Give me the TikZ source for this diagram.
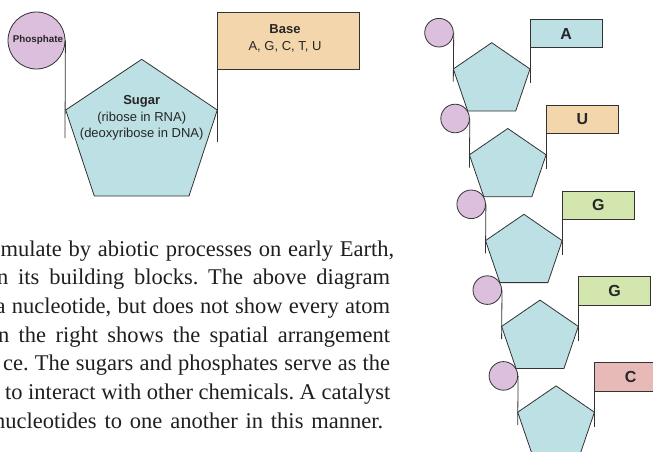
\documentclass[tikz,border=0pt]{standalone}
\usepackage{fontspec}
\setmainfont{Liberation Serif}
\setsansfont{Liberation Sans}
\definecolor{sugcol}{HTML}{BCE0E3}
\definecolor{phoscol}{HTML}{DCBFDC}
\definecolor{basecol}{HTML}{F3D6AC}
\definecolor{gcol}{HTML}{D2E6AE}
\definecolor{ccol}{HTML}{E8BAB7}
\definecolor{linecol}{HTML}{333333}
\begin{document}
\frenchspacing
\begin{tikzpicture}[x=1pt,y=-1pt,
  ln/.style={draw=linecol, line width=0.8pt},
  phos/.style={circle, draw=linecol, line width=0.8pt, fill=phoscol, inner sep=0pt},
  sug/.style={draw=linecol, line width=0.8pt, fill=sugcol},
  basebox/.style={draw=linecol, line width=0.8pt, inner sep=0pt, anchor=north west},
  lbl/.style={font=\sffamily\fontsize{13}{16.5}\selectfont, align=center, inner sep=0pt, text=black!85},
  letter/.style={font=\sffamily\bfseries\fontsize{16}{18}\selectfont, text=black!85},
  para/.style={anchor=base west, inner sep=0pt, font=\fontsize{22.5}{28}\selectfont, text=black!88}
]
\useasboundingbox (0,0) rectangle (653,452);
\clip (0,0) rectangle (653,452);

% ---------- left: single nucleotide ----------
\draw[sug] (141.7,59.3) -- (217.3,110) -- (189,196) -- (94.3,196) -- (65.7,110) -- cycle;
\node[lbl] (sugar) at (141.7,118) {\textbf{Sugar}\\(ribose in RNA)\\(deoxyribose in DNA)};
\node[phos, minimum size=57pt] (P) at (36.5,40.5) {};
\node[font=\sffamily\bfseries\fontsize{9.8}{11}\selectfont, inner sep=0pt, text=black!85] (ptxt) at (38,40) {Phosphate};
\coordinate (pend) at (65,138);
\draw[ln] (P.east) -- (pend);
\node[basebox, fill=basecol, minimum width=141.7pt, minimum height=57.3pt] (B) at (217.3,11.7) {};
\node[lbl] (btxt) at (285,38.5) {\textbf{Base}\\A, G, C, T, U};
\coordinate (bend) at (217.3,141.7);
\draw[ln] (B.north west) -- (bend);

% ---------- right: chain ----------
\foreach \k/\lab/\col in {0/A/sugcol,1/U/basecol,2/G/gcol,3/G/gcol,4/C/ccol}{
  \begin{scope}[shift={(16.1*\k,85.8*\k)}]
    \draw[sug] (491.7,42.7) -- (530,69) -- (515.7,111) -- (467.7,111) -- (453.3,69) -- cycle;
    \node[phos, minimum size=28.6pt] (c\k) at (439,32.7) {};
    \coordinate (ce\k) at (453.3,81.7);
    \draw[ln] (c\k.east) -- (ce\k);
    \node[basebox, fill=\col, minimum width=71.7pt, minimum height=28.3pt] (b\k) at (530,19) {};
    \node[letter] (l\k) at (b\k.center) {\lab};
    \coordinate (be\k) at (530,83.3);
    \draw[ln] (b\k.north west) -- (be\k);
  \end{scope}
}

% ---------- text ----------
\node[para] (t1) at (0.5,256) {\makebox[393.5pt][s]{mulate by abiotic processes on early Earth,}};
\node[para] (t2) at (-3,284.7) {\makebox[393pt][s]{n its building blocks. The above diagram}};
\node[para] (t3) at (-4.5,313.3) {\makebox[394.5pt][s]{a nucleotide, but does not show every atom}};
\node[para] (t4) at (-2,342) {\makebox[392pt][s]{n the right shows the spatial arrangement}};
\node[para] (t5) at (3,370.7) {\makebox[387pt][s]{ce. The sugars and phosphates serve as the}};
\node[para] (t6) at (5,399.3) {\makebox[385pt][s]{to interact with other chemicals. A catalyst}};
\node[para] (t7) at (-6,428) {\makebox[389pt][s]{nucleotides to one another in this manner.}};
\end{tikzpicture}
\end{document}
